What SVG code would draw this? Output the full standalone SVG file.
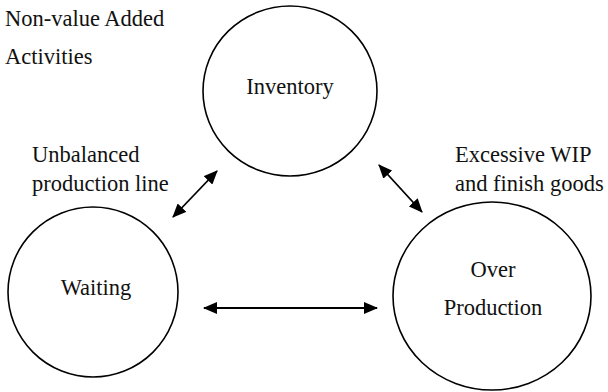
<svg xmlns="http://www.w3.org/2000/svg" width="608" height="392" viewBox="0 0 608 392">
<style>
.node{fill:#fff;stroke:#000;stroke-width:1.6}
text{font-family:'Liberation Serif','Times New Roman','DejaVu Serif',Times,serif;font-size:22.5px;fill:#111}
.c{text-anchor:middle}
.conn line{stroke:#000;stroke-width:1.8}
</style>
<defs>
<marker id="ah" markerUnits="userSpaceOnUse" markerWidth="14" markerHeight="12" viewBox="0 0 14 12" refX="13" refY="6" orient="auto-start-reverse">
<path d="M0,0 L14,6 L0,12 Z" fill="#000"/>
</marker>
</defs>
<rect width="608" height="392" fill="#fff"/>
<g id="title">
<text x="5" y="26">Non-value Added</text>
<text x="5" y="64">Activities</text>
</g>
<g id="inventory">
<ellipse class="node" cx="290" cy="91" rx="87" ry="85"/>
<text class="c" x="290" y="94">Inventory</text>
</g>
<g id="waiting">
<ellipse class="node" cx="93" cy="292" rx="85" ry="85"/>
<text class="c" x="96" y="295">Waiting</text>
</g>
<g id="overproduction">
<ellipse class="node" cx="492" cy="296" rx="99" ry="94"/>
<text class="c" x="493" y="277">Over</text>
<text class="c" x="493" y="315">Production</text>
</g>
<g id="labels">
<text x="32" y="162">Unbalanced</text>
<text x="32" y="191">production line</text>
<text x="455" y="162">Excessive WIP</text>
<text x="455" y="191">and finish goods</text>
</g>
<g class="conn" id="connectors">
<line x1="173" y1="217" x2="217" y2="171" marker-start="url(#ah)" marker-end="url(#ah)"/>
<line x1="379" y1="165" x2="422" y2="212" marker-start="url(#ah)" marker-end="url(#ah)"/>
<line x1="204" y1="308" x2="377" y2="308" marker-start="url(#ah)" marker-end="url(#ah)"/>
</g>
</svg>
